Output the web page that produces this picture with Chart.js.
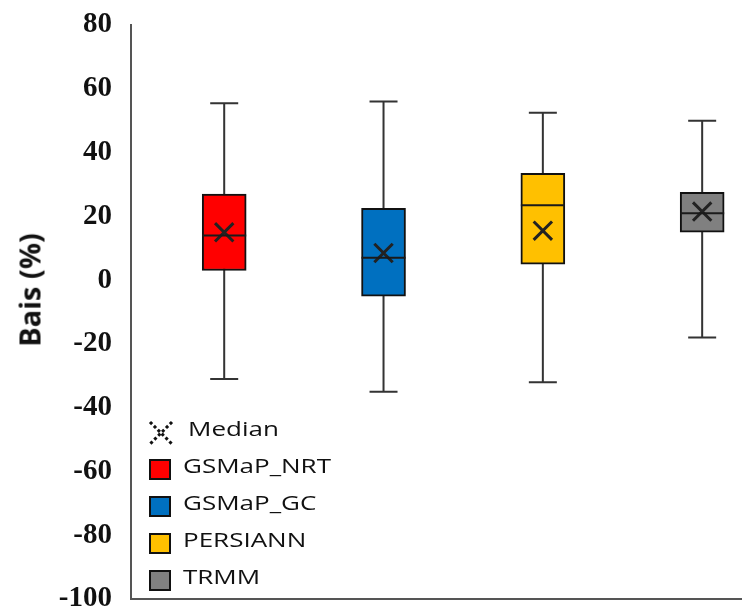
<!DOCTYPE html>
<html>
<head>
<meta charset="utf-8">
<script src="https://cdn.jsdelivr.net/npm/chart.js@4.4.1/dist/chart.umd.min.js"></script>
<style>
    body { margin: 0; background: #fff; overflow: hidden; }
    #wrap { position: relative; width: 742px; height: 615px; }
    #axisTitle {
        position: absolute; left: 29px; top: 290px;
        transform: translate(-50%, -50%) rotate(-90deg);
        font: bold 29px "Open Sans", sans-serif; color: #111; white-space: nowrap;
    }
    #legend { position: absolute; left: 147px; top: 416px; }
    .row { position: relative; height: 37px; }
    .sw { position: absolute; left: 2px; top: 6px; width: 18px; height: 17px; border: 2px solid #111; }
    .lbl {
        position: absolute; left: 36px; top: -1px; font: 20px "Open Sans", sans-serif; color: #111;
        transform: scaleX(1.3); transform-origin: left center; white-space: nowrap;
    }
</style>
</head>
<body>
<div id="wrap">
    <canvas id="myChart" width="742" height="615"></canvas>
    <div id="axisTitle">Bais (%)</div>
    <div id="legend"></div>
</div>
<script>
// --- DATA ---
const products = ['GSMaP_NRT', 'GSMaP_GC', 'PERSIANN', 'TRMM'];
const whiskerLow = [-31, -35, -32, -18];
const boxLow = [3, -5, 5, 15];
const medians = [14, 7, 23.5, 21];
const boxHigh = [27, 22.5, 33.5, 27.5];
const whiskerHigh = [55.5, 56, 52.5, 50];
const markerX = [15, 8.5, 15.5, 21.5];   // the "X" markers
const boxColors = ['#ff0000', '#0070c0', '#ffc000', '#808080'];
const yTicks = [80, 60, 40, 20, 0, -20, -40, -60, -80, -100];

// --- LEGEND (html overlay) ---
const legend = document.getElementById('legend');
legend.innerHTML = `
    <div class="row">
        <svg width="28" height="28" style="position:absolute;left:0;top:3px">
            <line x1="3" y1="3" x2="25" y2="25" stroke="#111" stroke-width="3" stroke-dasharray="3 2.5"/>
            <line x1="25" y1="3" x2="3" y2="25" stroke="#111" stroke-width="3" stroke-dasharray="3 2.5"/>
        </svg>
        <span class="lbl" style="left:41px">Median</span>
    </div>`;
products.forEach((p, i) => {
    legend.innerHTML += `
        <div class="row">
            <div class="sw" style="background:${boxColors[i]}"></div>
            <span class="lbl">${p}</span>
        </div>`;
});

// whiskers + caps under the boxes, median lines on top
const boxPlotLines = {
    id: 'boxPlotLines',
    beforeDatasetsDraw(chart) {
        const { ctx, scales: { x, y } } = chart;
        ctx.save();
        ctx.strokeStyle = '#333';
        ctx.lineWidth = 2;
        products.forEach((p, i) => {
            const cx = x.getPixelForValue(i);
            const top = y.getPixelForValue(whiskerHigh[i]);
            const bot = y.getPixelForValue(whiskerLow[i]);
            ctx.beginPath();
            ctx.moveTo(cx, top); ctx.lineTo(cx, bot);
            ctx.moveTo(cx - 14, top); ctx.lineTo(cx + 14, top);
            ctx.moveTo(cx - 14, bot); ctx.lineTo(cx + 14, bot);
            ctx.stroke();
        });
        ctx.restore();
    },
    afterDatasetsDraw(chart) {
        const { ctx, scales: { x, y } } = chart;
        ctx.save();
        ctx.strokeStyle = '#1a1a1a';
        ctx.lineWidth = 2;
        products.forEach((p, i) => {
            const cx = x.getPixelForValue(i);
            const my = y.getPixelForValue(medians[i]);
            ctx.beginPath();
            ctx.moveTo(cx - 22, my); ctx.lineTo(cx + 22, my);
            ctx.stroke();
        });
        ctx.restore();
    }
};

const ctx = document.getElementById('myChart').getContext('2d');
new Chart(ctx, {
    data: {
        datasets: [
            {
                type: 'bar',
                label: 'box',
                data: products.map((p, i) => ({ x: i, y: [boxLow[i], boxHigh[i]] })),
                backgroundColor: boxColors,
                borderColor: '#111',
                borderWidth: 2,
                borderSkipped: false,
                barThickness: 44,
                order: 2
            },
            {
                type: 'scatter',
                label: 'Median',
                data: products.map((p, i) => ({ x: i, y: markerX[i] })),
                pointStyle: 'crossRot',
                radius: 13,
                borderColor: '#222',
                borderWidth: 3,
                order: 1
            }
        ]
    },
    options: {
        responsive: false,
        animation: false,
        layout: { autoPadding: false, padding: { top: 25, right: 0, bottom: 16, left: 0 } },
        plugins: { legend: { display: false }, tooltip: { enabled: false } },
        scales: {
            x: {
                type: 'linear',
                offset: false,
                min: -0.585,
                max: 3.25,
                grid: { display: false, drawTicks: false },
                border: { display: true, color: '#555', width: 2 },
                ticks: { display: false },
                afterFit: s => { s.height = 0; s.paddingLeft = 0; s.paddingRight = 0; }
            },
            y: {
                min: -100,
                max: 80,
                afterBuildTicks: s => { s.ticks = yTicks.map(v => ({ value: v })); },
                grid: { display: false, drawTicks: false },
                border: { display: true, color: '#555', width: 2 },
                ticks: {
                    padding: 19,
                    color: '#111',
                    font: { family: 'Liberation Serif', size: 29, weight: 'bold' }
                },
                afterFit: s => { s.width = 131; s.paddingTop = 0; s.paddingBottom = 0; }
            }
        }
    },
    plugins: [boxPlotLines]
});
</script>
</body>
</html>
